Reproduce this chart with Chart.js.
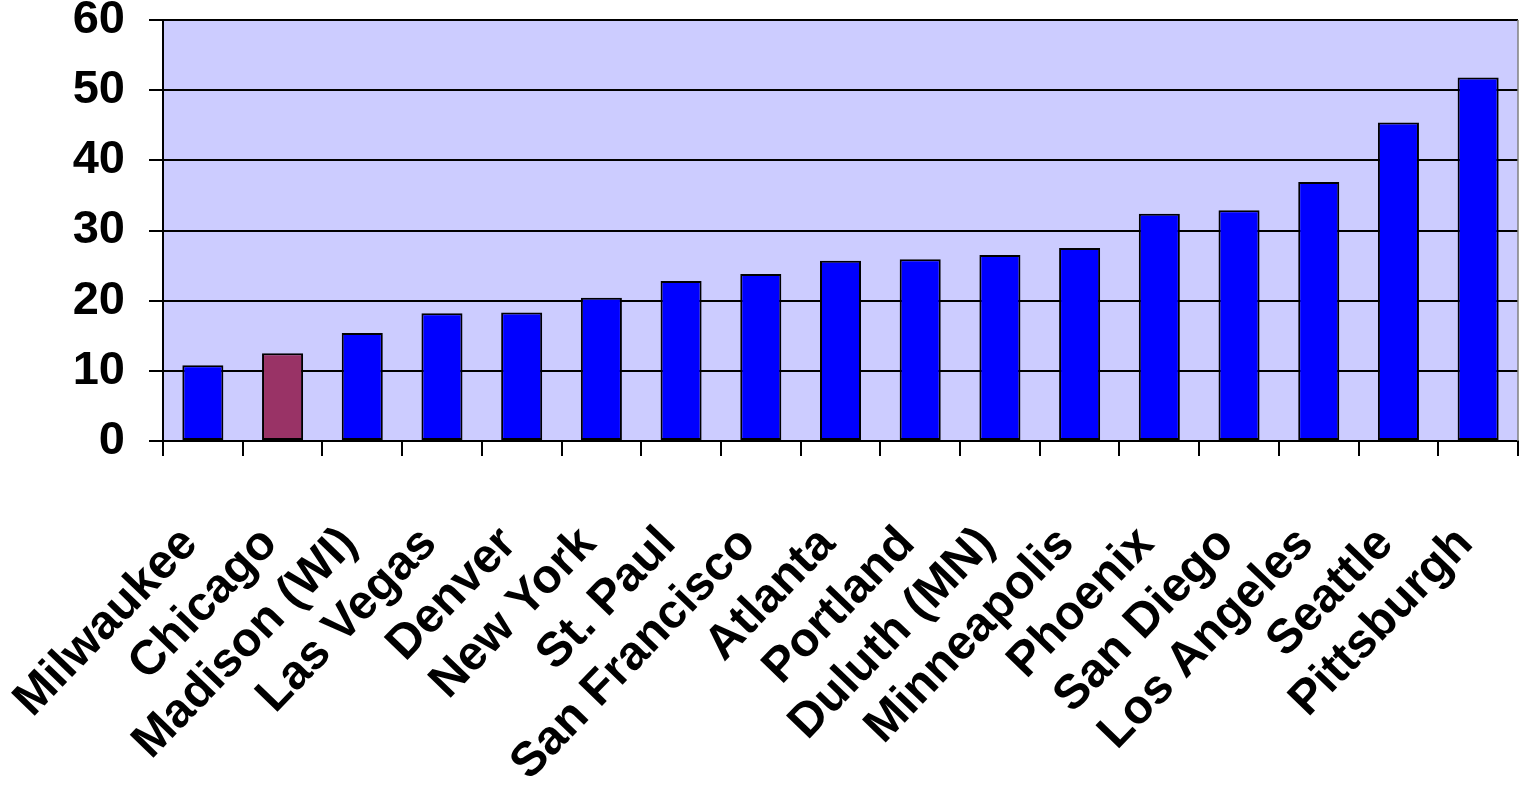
<!DOCTYPE html>
<html>
<head>
<meta charset="utf-8">
<title>Cities</title>
<script src="https://cdn.jsdelivr.net/npm/chart.js@4/dist/chart.umd.min.js"></script>
<style>
  html, body { margin: 0; padding: 0; background: #ffffff; }
  #wrap { width: 1522px; height: 785px; }
  canvas { display: block; }
</style>
</head>
<body>
<div id="wrap"><canvas id="chart" width="1522" height="785"></canvas></div>
<script>
// Categories, in the order they are drawn
const cities = [
  'Milwaukee', 'Chicago', 'Madison (WI)', 'Las Vegas', 'Denver', 'New York',
  'St. Paul', 'San Francisco', 'Atlanta', 'Portland', 'Duluth (MN)',
  'Minneapolis', 'Phoenix', 'San Diego', 'Los Angeles', 'Seattle', 'Pittsburgh'
];

// One value per city
const values = [
  10.8, 12.5, 15.4, 18.2, 18.3, 20.4,
  22.8, 23.8, 25.7, 25.9, 26.5,
  27.5, 32.4, 32.9, 36.9, 45.4, 51.8
];

// Value axis ticks
const yTicks = [0, 10, 20, 30, 40, 50, 60];

// The one city drawn in its own colour
const highlightCity = 'Chicago';

const BAR_COLOR = '#0000FF';
const HIGHLIGHT_COLOR = '#993366';
const PLOT_BG = '#CCCCFF';
const FONT_FAMILY = '"Liberation Sans", Arial, Helvetica, sans-serif';

const barColors = cities.map(c => (c === highlightCity ? HIGHLIGHT_COLOR : BAR_COLOR));

// Fills the plot area and outlines its right edge
const plotFrame = {
  id: 'plotFrame',
  beforeDraw(chart) {
    const { ctx, chartArea: a } = chart;
    ctx.save();
    ctx.fillStyle = PLOT_BG;
    ctx.fillRect(a.left, a.top, a.right - a.left, a.bottom - a.top);
    ctx.restore();
  },
  afterDraw(chart) {
    const { ctx, chartArea: a } = chart;
    ctx.save();
    ctx.strokeStyle = '#808080';
    ctx.lineWidth = 1.5;
    ctx.beginPath();
    ctx.moveTo(a.right, a.top);
    ctx.lineTo(a.right, a.bottom);
    ctx.stroke();
    ctx.restore();
  }
};

new Chart(document.getElementById('chart'), {
  type: 'bar',
  data: {
    labels: cities,
    datasets: [{
      data: values,
      backgroundColor: barColors,
      borderColor: '#000000',
      borderWidth: 2,
      borderSkipped: false,
      barPercentage: 0.515,
      categoryPercentage: 1.0
    }]
  },
  options: {
    responsive: false,
    animation: false,
    devicePixelRatio: 1,
    layout: { padding: { top: 20, right: 4, left: 0, bottom: 0 } },
    plugins: {
      legend: { display: false },
      tooltip: { enabled: false }
    },
    scales: {
      x: {
        type: 'category',
        grid: {
          display: true,
          drawOnChartArea: false,
          offset: true,
          tickLength: 15,
          color: '#000000',
          lineWidth: 2
        },
        border: { display: true, color: '#000000', width: 2 },
        ticks: {
          autoSkip: false,
          minRotation: 46,
          maxRotation: 46,
          padding: 60,
          labelOffset: -13,
          color: '#000000',
          font: { family: FONT_FAMILY, size: 48, weight: 'bold' }
        },
        afterFit(scale) {
          scale.height = 344;
          scale.paddingLeft = 0;
          scale.paddingRight = 0;
        }
      },
      y: {
        min: 0,
        max: 60,
        afterBuildTicks(scale) {
          scale.ticks = yTicks.map(v => ({ value: v }));
        },
        grid: {
          color: '#000000',
          lineWidth: 2,
          tickLength: 14,
          drawTicks: true
        },
        border: { display: true, color: '#000000', width: 2 },
        ticks: {
          padding: 24,
          color: '#000000',
          font: { family: FONT_FAMILY, size: 47, weight: 'bold' }
        },
        afterFit(scale) {
          scale.width = 163;
          scale.paddingTop = 0;
          scale.paddingBottom = 0;
        }
      }
    }
  },
  plugins: [plotFrame]
});
</script>
</body>
</html>
